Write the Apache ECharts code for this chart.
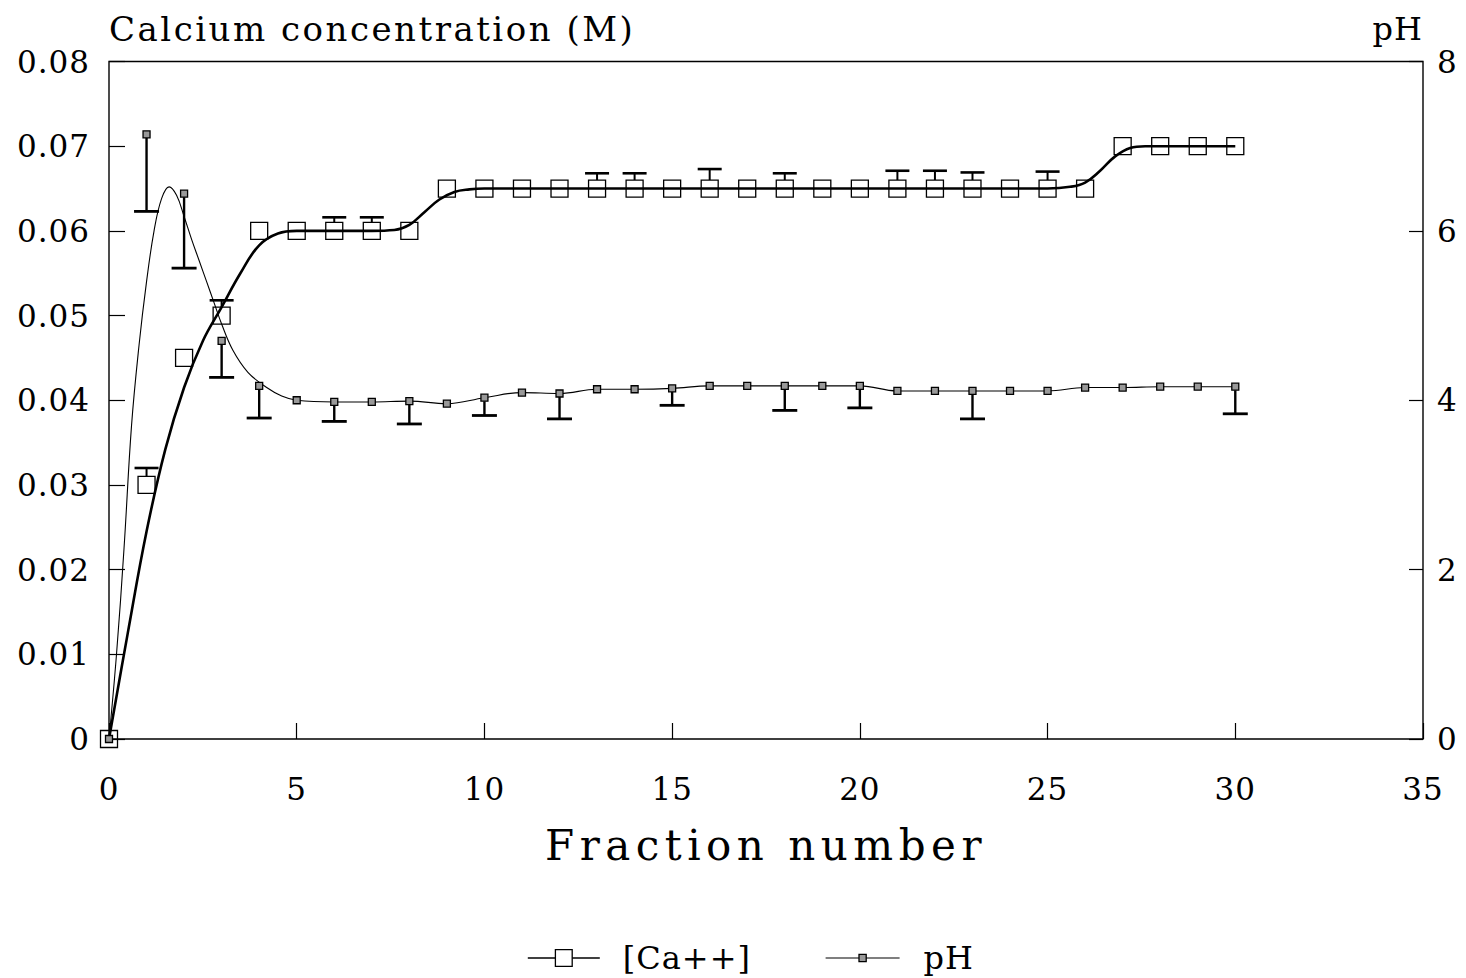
<!DOCTYPE html>
<html>
<head>
<meta charset="utf-8">
<script src="https://cdn.jsdelivr.net/npm/echarts@6/dist/echarts.min.js"></script>
<style>
  html, body { margin: 0; padding: 0; background: #fff; }
  #main { width: 1466px; height: 978px; }
  #main text[style*="31px"] { letter-spacing: 1px; }
  #main text[style*="34px"] { letter-spacing: 2.5px; }
  #main text[style*="42px"] { letter-spacing: 5.5px; }
  #main text[style*="32px"] { letter-spacing: 1px; }
</style>
</head>
<body>
<div id="main"></div>
<script>
// ---- data ----
const fractions = [0,1,2,3,4,5,6,7,8,9,10,11,12,13,14,15,16,17,18,19,20,21,22,23,24,25,26,27,28,29,30];
const calcium = [0,0.030,0.045,0.050,0.060,0.060,0.060,0.060,0.060,0.065,0.065,0.065,0.065,0.065,0.065,0.065,0.065,0.065,0.065,0.065,0.065,0.065,0.065,0.065,0.065,0.065,0.065,0.070,0.070,0.070,0.070];
const pH = [0,7.14,6.44,4.70,4.17,4.00,3.98,3.98,3.99,3.96,4.03,4.09,4.08,4.13,4.13,4.14,4.17,4.17,4.17,4.17,4.17,4.11,4.11,4.11,4.11,4.11,4.15,4.15,4.16,4.16,4.16];

// error bars: calcium (upper end), pH (lower end)
const caErrX    = [1, 3, 6, 7, 13, 14, 16, 18, 21, 22, 23, 25];
const caErrHigh = [0.0320, 0.0518, 0.0616, 0.0616, 0.0668, 0.0668, 0.0673, 0.0668, 0.0671, 0.0671, 0.0669, 0.0670];
const phErrX    = [1, 2, 3, 4, 6, 8, 10, 12, 15, 18, 20, 23, 30];
const phErrLow  = [6.23, 5.56, 4.27, 3.79, 3.75, 3.72, 3.82, 3.78, 3.94, 3.88, 3.91, 3.78, 3.84];

// fitted curves as drawn in the picture (x, value)
const caFitX = [0,0.5,1,1.5,2,2.5,3,3.5,4,4.5,5,6,7,7.6,8,8.4,8.8,9.2,9.6,10,15,20,25,25.6,26,26.4,26.8,27.2,27.6,28,29,30];
const caFitY = [0,0.0125,0.0245,0.0342,0.0415,0.0470,0.0510,0.0550,0.0583,0.0597,0.0600,0.0600,0.0600,0.0601,0.0607,0.0622,0.0637,0.0646,0.0649,0.0650,0.0650,0.0650,0.0650,0.0652,0.0657,0.0671,0.0688,0.0698,0.0700,0.0700,0.0700,0.0700];
const phFitX = [0,0.2,0.4,0.6,0.8,1.0,1.2,1.4,1.6,1.8,2.0,2.2,2.4,2.6,2.8,3.0,3.3,3.7,4.2,4.6,5,6,7,8,9,10,11,12,13,14,15,16,17,18,19,20,21,22,23,24,25,26,27,28,29,30];
const phFitY = [0,1.0,2.25,3.7,4.65,5.4,6.0,6.38,6.52,6.42,6.17,5.9,5.65,5.4,5.15,4.9,4.59,4.33,4.15,4.05,4.0,3.98,3.98,3.99,3.96,4.03,4.09,4.08,4.13,4.13,4.14,4.17,4.17,4.17,4.17,4.17,4.11,4.11,4.11,4.11,4.11,4.15,4.15,4.16,4.16,4.16];

// tick labels
const xTickLabels  = ['0','5','10','15','20','25','30','35'];
const caTickLabels = ['0','0.01','0.02','0.03','0.04','0.05','0.06','0.07','0.08'];
const phTickLabels = ['0','2','4','6','8'];

// ---- build ----
const FONT = 'DejaVu Serif';
const caPoints = fractions.map((x, i) => [x, calcium[i]]);
const phPoints = fractions.map((x, i) => [x, pH[i]]);
const caFit = caFitX.map((x, i) => [x, caFitY[i]]);
const phFit = phFitX.map((x, i) => [x, phFitY[i]]);
const caErr = caErrX.map((x, i) => [x, calcium[fractions.indexOf(x)], caErrHigh[i]]);
const phErr = phErrX.map((x, i) => [x, pH[fractions.indexOf(x)], phErrLow[i]]);

function errRender(half, capW, stemW, capLW) {
  return function (params, api) {
    const p = api.coord([api.value(0), api.value(1)]);
    const e = api.coord([api.value(0), api.value(2)]);
    const sign = e[1] < p[1] ? -1 : 1;
    return {
      type: 'group',
      children: [
        { type: 'line', shape: { x1: p[0], y1: p[1] + sign * half, x2: e[0], y2: e[1] },
          style: { stroke: '#000', lineWidth: stemW } },
        { type: 'line', shape: { x1: e[0] - capW / 2, y1: e[1], x2: e[0] + capW / 2, y2: e[1] },
          style: { stroke: '#000', lineWidth: capLW } }
      ]
    };
  };
}

const chart = echarts.init(document.getElementById('main'), null, { renderer: 'svg' });
chart.setOption({
  animation: false,
  backgroundColor: '#fff',
  grid: { left: 109, right: 43, top: 61.5, bottom: 239, show: true, borderColor: '#000', borderWidth: 1.4, outerBoundsMode: 'none' },
  legend: [
    { data: ['[Ca++]'], left: 522, top: 937, itemWidth: 72, itemHeight: 21,
      textStyle: { fontFamily: FONT, fontSize: 32, color: '#000', padding: [0, 0, 0, 18] },
      lineStyle: { width: 1.6, color: '#000' },
      itemStyle: { color: '#fff', borderColor: '#000', borderWidth: 1.3 } },
    { data: ['pH'], left: 820, top: 937, itemWidth: 74, itemHeight: 9,
      textStyle: { fontFamily: FONT, fontSize: 32, color: '#000', padding: [0, 0, 0, 19] },
      lineStyle: { width: 1.2, color: '#000' },
      itemStyle: { color: '#999', borderColor: '#000', borderWidth: 1.3 } }
  ],
  xAxis: {
    type: 'value', min: 0, max: 35, interval: 5,
    name: 'Fraction number', nameLocation: 'middle', nameGap: 106,
    nameTextStyle: { fontFamily: FONT, fontSize: 42, color: '#000', verticalAlign: 'middle' },
    axisLine: { show: false },
    axisTick: { show: true, inside: true, length: 16, lineStyle: { color: '#000', width: 1.2 } },
    splitLine: { show: false },
    axisLabel: { margin: 34, fontFamily: FONT, fontSize: 31, color: '#000',
      formatter: v => xTickLabels[Math.round(v / 5)] }
  },
  yAxis: [
    { type: 'value', min: 0, max: 0.08, interval: 0.01, position: 'left',
      name: 'Calcium concentration (M)', nameLocation: 'end', nameGap: 33,
      nameTextStyle: { fontFamily: FONT, fontSize: 34, color: '#000', align: 'left', verticalAlign: 'middle' },
      axisLine: { show: false },
      axisTick: { show: true, inside: true, length: 16, lineStyle: { color: '#000', width: 1.2 } },
      splitLine: { show: false },
      axisLabel: { margin: 19, fontFamily: FONT, fontSize: 31, color: '#000',
        formatter: v => caTickLabels[Math.round(v * 100)] } },
    { type: 'value', min: 0, max: 8, interval: 2, position: 'right',
      name: 'pH', nameLocation: 'end', nameGap: 33,
      nameTextStyle: { fontFamily: FONT, fontSize: 32, color: '#000', align: 'right', verticalAlign: 'middle' },
      axisLine: { show: false },
      axisTick: { show: true, inside: true, length: 14, lineStyle: { color: '#000', width: 1.2 } },
      splitLine: { show: false },
      axisLabel: { margin: 14, fontFamily: FONT, fontSize: 31, color: '#000',
        formatter: v => phTickLabels[Math.round(v / 2)] } }
  ],
  series: [
    { name: '[Ca++]', type: 'line', data: caFit, yAxisIndex: 0, smooth: 0.4,
      symbol: 'rect', showSymbol: false, lineStyle: { color: '#000', width: 2.6 },
      itemStyle: { color: '#fff', borderColor: '#000' }, z: 3 },
    { name: 'pH', type: 'line', data: phFit, yAxisIndex: 1, smooth: 0.4,
      symbol: 'rect', showSymbol: false, lineStyle: { color: '#000', width: 1.1 },
      itemStyle: { color: '#999', borderColor: '#000' }, z: 3 },
    { name: 'caErr', type: 'custom', yAxisIndex: 0, data: caErr, encode: { x: 0, y: [1, 2] },
      renderItem: errRender(8.5, 24, 2, 2.6), z: 2 },
    { name: 'phErr', type: 'custom', yAxisIndex: 1, data: phErr, encode: { x: 0, y: [1, 2] },
      renderItem: errRender(3.5, 25, 2.4, 2.8), z: 2 },
    { name: 'caPts', type: 'scatter', yAxisIndex: 0, data: caPoints, symbol: 'rect', symbolSize: 17,
      itemStyle: { color: 'rgba(0,0,0,0)', borderColor: '#000', borderWidth: 1.3, opacity: 1 }, z: 4 },
    { name: 'phPts', type: 'scatter', yAxisIndex: 1, data: phPoints, symbol: 'rect', symbolSize: 7,
      itemStyle: { color: '#999', borderColor: '#000', borderWidth: 1.3, opacity: 1 }, z: 5 }
  ]
});
</script>
</body>
</html>
